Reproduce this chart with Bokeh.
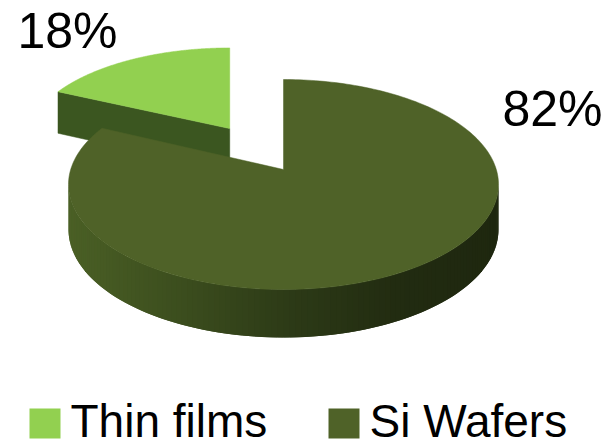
import numpy as np
from bokeh.plotting import figure
from bokeh.models import Range1d, ColumnDataSource
from bokeh.core.properties import value
from bokeh.embed import file_html
from bokeh.resources import INLINE

# ---------------- data ----------------
categories = ["Thin films", "Si Wafers"]
shares = [18, 82]
pct_labels = ["18%", "82%"]

# ---------------- style ----------------
top_colors = ["#92D050", "#4F6228"]
cut_colors = ["#3B5620", "#3A4C1E"]
explode = [0.5, 0.0]
FONT = "Liberation Sans"

W, H = 609, 445
# perspective model of the pie plane (screen pixels)
CX, B, A, C, K = 283.0, 169.0, 78.714, -1.0 / 7.0, 212.8


def depth(v):
    return 44.5 + 3.5 * v


def proj(u, v, u0, x0):
    den = 1.0 + C * v
    return x0 + K * (u - u0) / den, (A * v + B) / den


def side_color(x):
    stops_t = [0.0, 0.25, 0.5, 0.75, 1.0]
    stops_c = [(74, 95, 37), (60, 78, 30), (45, 59, 23), (34, 44, 17), (30, 39, 15)]
    t = min(max((x - 70.0) / 430.0, 0.0), 1.0)
    r = [np.interp(t, stops_t, [c[i] for c in stops_c]) for i in range(3)]
    return "#%02x%02x%02x" % tuple(int(round(k)) for k in r)


p = figure(width=W, height=H, x_range=Range1d(0, W), y_range=Range1d(H, 0),
           output_backend="svg", toolbar_location=None, min_border=0)
p.axis.visible = False
p.grid.visible = False
p.outline_line_color = None
p.background_fill_color = "white"

total = float(sum(shares))
order = [1, 0]
start = 0.0
slices = {}
for i in order:
    span = 360.0 * shares[i] / total
    slices[i] = (start, start + span)
    start += span


def vertex_v(i):
    s, e = slices[i]
    m = np.radians((s + e) / 2)
    return -explode[i] * np.cos(m)


for i in sorted(order, key=vertex_v):
    s, e = slices[i]
    m = np.radians((s + e) / 2)
    uv, vv = explode[i] * np.sin(m), -explode[i] * np.cos(m)
    x0 = CX + K * uv / (1 + C * vv)

    def P(theta_deg, bottom=False):
        t = np.radians(theta_deg)
        u = uv + np.sin(t)
        v = vv - np.cos(t)
        x, y = proj(u, v, uv, x0)
        if bottom:
            y = y + depth(v)
        return x, y

    def V(bottom=False):
        x, y = proj(uv, vv, uv, x0)
        if bottom:
            y = y + depth(vv)
        return x, y

    # radial cut faces
    for th, nrm in ((s, s - 90.0), (e, e + 90.0)):
        if -np.cos(np.radians(nrm)) > 0.05:
            a1, a2 = V(), P(th)
            b2, b1 = P(th, True), V(True)
            p.patch([a1[0], a2[0], b2[0], b1[0]], [a1[1], a2[1], b2[1], b1[1]],
                    fill_color=cut_colors[i], line_color=cut_colors[i], line_width=0.5)

    # outer curved side (front part), overlapping strips to hide seams
    lo, hi = max(s, 98.2), min(e, 261.8)
    if hi > lo:
        ths = np.linspace(lo, hi, 121)
        xs, ys, cols = [], [], []
        for k in range(len(ths) - 1):
            t1 = ths[k]
            t2 = ths[min(k + 2, len(ths) - 1)]
            p1, p2 = P(t1), P(t2)
            q2, q1 = P(t2, True), P(t1, True)
            xs.append([p1[0], p2[0], q2[0], q1[0]])
            ys.append([p1[1], p2[1], q2[1], q1[1]])
            cols.append(side_color(P(ths[k])[0] * 0.5 + P(ths[k + 1])[0] * 0.5))
        src = ColumnDataSource(dict(xs=xs, ys=ys, c=cols))
        p.patches("xs", "ys", source=src, fill_color="c", line_color=None)

    # top face
    ths = np.linspace(s, e, 240)
    pts = [V()] + [P(t) for t in ths]
    p.patch([q[0] for q in pts], [q[1] for q in pts],
            fill_color=top_colors[i], line_color=top_colors[i], line_width=0.5)

# percentage labels (layout positions, alphabetic baseline)
label_x = [17, 502]
label_y = [50, 128]
p.text(x=label_x, y=label_y, text=pct_labels, text_font=value(FONT),
       text_font_size="50px", text_color="#000000", y_offset=-20,
       text_align="left", text_baseline="alphabetic")

# legend
leg_sq_x = [29, 328]
leg_y0, leg_y1 = 408, 438
p.quad(left=leg_sq_x, right=[x + 31 for x in leg_sq_x], top=[leg_y0] * 2,
       bottom=[leg_y1] * 2, fill_color=top_colors, line_color=None)
p.text(x=[x + 41 for x in leg_sq_x], y=[leg_y1] * 2, text=categories,
       text_font=value(FONT), text_font_size="46px", text_color="#000000",
       y_offset=-18, text_align="left", text_baseline="alphabetic")

open("out.html", "w").write(file_html(p, INLINE))
